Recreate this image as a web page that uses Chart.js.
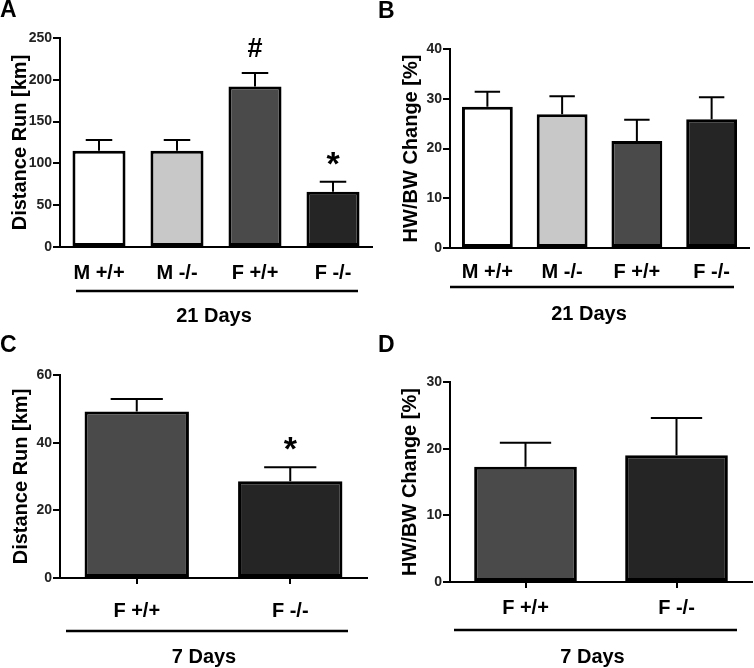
<!DOCTYPE html>
<html>
<head>
<meta charset="utf-8">
<script src="https://cdn.jsdelivr.net/npm/chart.js@4"></script>
<style>
  body { margin: 0; background: #fff; }
  #wrap { position: relative; width: 754px; height: 668px; }
  #wrap canvas { position: absolute; }
  .letter { position: absolute; font: bold 23px 'Liberation Sans', Arial, sans-serif; line-height: 1; color: #000; }
</style>
</head>
<body>
<div id="wrap">
  <canvas id="chartA" width="377" height="334" style="left:0;top:0"></canvas>
  <canvas id="chartB" width="377" height="334" style="left:377px;top:0"></canvas>
  <canvas id="chartC" width="377" height="334" style="left:0;top:334px"></canvas>
  <canvas id="chartD" width="377" height="334" style="left:377px;top:334px"></canvas>
  <div class="letter" style="left:0;top:-2px">A</div>
  <div class="letter" style="left:378px;top:-1px">B</div>
  <div class="letter" style="left:0;top:333px">C</div>
  <div class="letter" style="left:378px;top:333px">D</div>
</div>
<script>
// 21 days groups
var groups21 = ['M +/+', 'M -/-', 'F +/+', 'F -/-'];
var colors21 = ['#ffffff', '#c8c8c8', '#4a4a4a', '#252525'];
var distance21 = [115, 115, 192, 66];
var distance21Err = [13, 13, 16, 12];
var distance21Marks = ['', '', '#', '*'];
var hwbw21 = [28.4, 26.9, 21.5, 25.9];
var hwbw21Err = [3.0, 3.6, 4.3, 4.4];

// 7 days groups
var groups7 = ['F +/+', 'F -/-'];
var colors7 = ['#4a4a4a', '#252525'];
var distance7 = [49.2, 28.6];
var distance7Err = [3.7, 4.1];
var distance7Marks = ['', '*'];
var hwbw7 = [17.3, 19.0];
var hwbw7Err = [3.6, 5.6];

var FONT = "'Liberation Sans', Arial, sans-serif";

// error bars, significance marks and the bracket with the day label
var extras = {
  id: 'extras',
  afterDatasetsDraw: function(chart, args, opts) {
    var ctx = chart.ctx;
    var yScale = chart.scales.y;
    var meta = chart.getDatasetMeta(0);
    var vals = chart.data.datasets[0].data;
    ctx.save();
    ctx.strokeStyle = '#000';
    ctx.fillStyle = '#000';
    ctx.lineWidth = 2;
    meta.data.forEach(function(bar, i) {
      var top = yScale.getPixelForValue(vals[i] + opts.errors[i]);
      var half = bar.width / 4;
      ctx.beginPath();
      ctx.moveTo(bar.x, bar.y);
      ctx.lineTo(bar.x, top);
      ctx.moveTo(bar.x - half, top);
      ctx.lineTo(bar.x + half, top);
      ctx.stroke();
      var m = opts.marks ? opts.marks[i] : '';
      if (m) {
        ctx.font = m == '*' ? 'bold 34px ' + FONT : 'bold 27px ' + FONT;
        ctx.textAlign = 'center';
        ctx.textBaseline = 'alphabetic';
        ctx.fillText(m, bar.x, top - (m == '*' ? 7 : 16));
      }
    });
    var a = chart.chartArea;
    var by = a.bottom + opts.bracketY;
    var x1 = a.left + opts.bracketL, x2 = a.right - opts.bracketR;
    ctx.lineWidth = 2.5;
    ctx.beginPath();
    ctx.moveTo(x1, by);
    ctx.lineTo(x2, by);
    ctx.stroke();
    ctx.font = 'bold 20px ' + FONT;
    ctx.textAlign = 'center';
    ctx.textBaseline = 'middle';
    ctx.fillText(opts.label, (x1 + x2) / 2 - 3, by + opts.labelGap);
    ctx.restore();
  }
};

function makePanel(id, labels, values, colors, yTitle, yMax, yStep, box, extra) {
  var ctx = document.getElementById(id).getContext('2d');
  return new Chart(ctx, {
    type: 'bar',
    data: {
      labels: labels,
      datasets: [{
        data: values,
        backgroundColor: colors,
        borderColor: '#000',
        borderWidth: 3,
        borderSkipped: false,
        barPercentage: 0.68,
        categoryPercentage: 1
      }]
    },
    options: {
      responsive: false,
      animation: false,
      layout: { padding: { top: box.top, right: box.right, left: 0, bottom: 0 } },
      plugins: { legend: { display: false }, tooltip: { enabled: false }, extras: extra },
      scales: {
        x: {
          afterFit: function(s) { s.height = box.xh; },
          border: { color: '#000', width: 2 },
          grid: { offset: false, drawOnChartArea: false, drawTicks: box.xticks, tickLength: 6, color: '#000', lineWidth: 2 },
          ticks: { color: '#000', padding: box.xpad, font: { family: FONT, size: 20, weight: 'bold' } }
        },
        y: {
          min: 0, max: yMax,
          afterFit: function(s) { s.width = box.yw; },
          border: { color: '#000', width: 2 },
          grid: { drawOnChartArea: false, drawTicks: true, tickLength: 7, color: '#000', lineWidth: 2 },
          ticks: { stepSize: yStep, color: '#222', padding: 1, font: { family: FONT, size: 14, weight: 'bold' } },
          title: { display: true, text: yTitle, color: '#000', padding: { top: box.tpad, bottom: 0 }, font: { family: FONT, size: 20, weight: 'bold' } }
        }
      }
    },
    plugins: [extras]
  });
}

makePanel('chartA', groups21, distance21, colors21, 'Distance Run [km]', 250, 50,
  { top: 38, right: 5, yw: 60, xh: 87, xticks: false, xpad: 14, tpad: 8 },
  { errors: distance21Err, marks: distance21Marks, bracketY: 44, bracketL: 16, bracketR: 14, labelGap: 25, label: '21 Days' });

makePanel('chartB', groups21, hwbw21, colors21, 'HW/BW Change [%]', 40, 10,
  { top: 49, right: 5, yw: 73, xh: 86, xticks: false, xpad: 12, tpad: 22 },
  { errors: hwbw21Err, marks: null, bracketY: 39, bracketL: 0, bracketR: 15, labelGap: 27, label: '21 Days' });

makePanel('chartC', groups7, distance7, colors7, 'Distance Run [km]', 60, 20,
  { top: 41, right: 10, yw: 60, xh: 90, xticks: true, xpad: 15, tpad: 9 },
  { errors: distance7Err, marks: distance7Marks, bracketY: 53, bracketL: 6, bracketR: 19, labelGap: 26, label: '7 Days' });

makePanel('chartD', groups7, hwbw7, colors7, 'HW/BW Change [%]', 30, 10,
  { top: 48, right: 2, yw: 73, xh: 86, xticks: true, xpad: 8, tpad: 21 },
  { errors: hwbw7Err, marks: null, bracketY: 48, bracketL: 4, bracketR: 15, labelGap: 27, label: '7 Days' });
</script>
</body>
</html>
